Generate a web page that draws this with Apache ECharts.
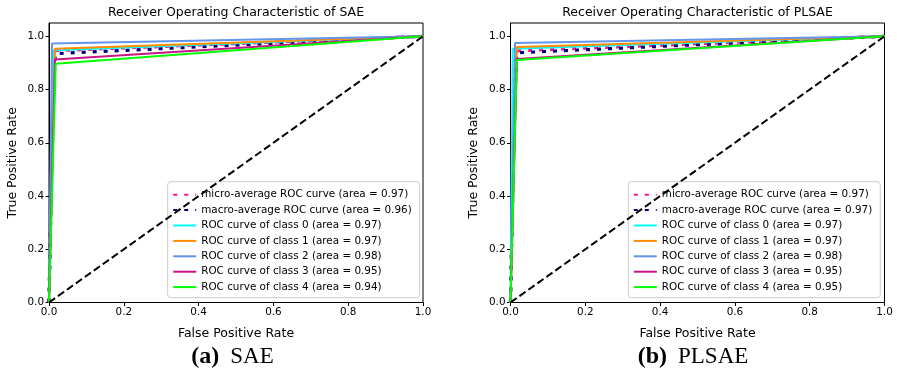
<!DOCTYPE html>
<html>
<head>
<meta charset="utf-8">
<script src="https://cdn.jsdelivr.net/npm/echarts@6/dist/echarts.min.js"></script>
<style>
html,body{margin:0;padding:0;background:#fff;}
#chart{width:897px;height:377px;}
</style>
</head>
<body>
<div id="chart"></div>
<script>
// ---- data ----
const xTicks = [0, 0.2, 0.4, 0.6, 0.8, 1.0];
const yTicks = [0, 0.2, 0.4, 0.6, 0.8, 1.0];
const titles = ['Receiver Operating Characteristic of SAE', 'Receiver Operating Characteristic of PLSAE'];
const captionTags = ['(a)', '(b)'];
const captionNames = ['SAE', 'PLSAE'];

const curveNames = ['micro-average ROC curve', 'macro-average ROC curve',
  'ROC curve of class 0', 'ROC curve of class 1', 'ROC curve of class 2',
  'ROC curve of class 3', 'ROC curve of class 4'];
const saeAreas = [0.97, 0.96, 0.97, 0.97, 0.98, 0.95, 0.94];
const plsaeAreas = [0.97, 0.97, 0.97, 0.97, 0.98, 0.95, 0.95];

// SAE curves [fpr, tpr]
const saeMicro  = [[0, 0], [0.0135, 0.946], [1, 1]];
const saeMacro  = [[0, 0], [0.008, 0.59], [0.0115, 0.77], [0.016, 0.917], [0.018, 0.935], [1, 1]];
const saeClass0 = [[0, 0], [0.0115, 0.948], [1, 1]];
const saeClass1 = [[0, 0], [0.016, 0.953], [1, 1]];
const saeClass2 = [[0, 0], [0.008, 0.973], [1, 1]];
const saeClass3 = [[0, 0], [0.016, 0.913], [1, 1]];
const saeClass4 = [[0, 0], [0.018, 0.897], [1, 1]];

// PLSAE curves [fpr, tpr]
const plsaeMicro  = [[0, 0], [0.014, 0.945], [1, 1]];
const plsaeMacro  = [[0, 0], [0.006, 0.485], [0.012, 0.78], [0.017, 0.938], [1, 1]];
const plsaeClass0 = [[0, 0], [0.006, 0.953], [1, 1]];
const plsaeClass1 = [[0, 0], [0.017, 0.96], [1, 1]];
const plsaeClass2 = [[0, 0], [0.012, 0.975], [1, 1]];
const plsaeClass3 = [[0, 0], [0.017, 0.915], [1, 1]];
const plsaeClass4 = [[0, 0], [0.017, 0.911], [1, 1]];

const chance = [[0, 0], [1, 1]];

// ---- styles ----
const FONT = 'DejaVu Sans';
const colors = ['#ff1493', '#000080', '#00ffff', '#ff8c00', '#6495ed', '#c71585', '#00ff00'];
const plots = [
  { curves: [saeMicro, saeMacro, saeClass0, saeClass1, saeClass2, saeClass3, saeClass4], areas: saeAreas },
  { curves: [plsaeMicro, plsaeMacro, plsaeClass0, plsaeClass1, plsaeClass2, plsaeClass3, plsaeClass4], areas: plsaeAreas }
];
const gridLeft = [49, 510.5];
const gridRight = [897 - 423, 897 - 884.5];
const gridTop = 23, gridBottom = 74.5;

const chart = echarts.init(document.getElementById('chart'), null, { renderer: 'canvas' });

const grids = [], xAxes = [], yAxes = [], series = [], legends = [], graphics = [];
plots.forEach((p, gi) => {
  grids.push({ left: gridLeft[gi], right: gridRight[gi], top: gridTop, bottom: gridBottom,
    show: true, borderColor: '#000', borderWidth: 1, backgroundColor: '#fff' });
  xAxes.push({
    type: 'value', gridIndex: gi, min: 0, max: 1,
    axisLine: { show: true, lineStyle: { color: '#000', width: 1 } },
    axisTick: { show: true, customValues: xTicks, length: 3.5, lineStyle: { color: '#000', width: 1 } },
    axisLabel: { customValues: xTicks, formatter: v => v.toFixed(1), color: '#000', fontFamily: FONT, fontSize: 10.4, margin: 5 },
    splitLine: { show: false },
    name: 'False Positive Rate', nameLocation: 'middle', nameGap: 25,
    nameTextStyle: { color: '#000', fontFamily: FONT, fontSize: 12.5 }
  });
  yAxes.push({
    type: 'value', gridIndex: gi, min: 0, max: 1.05,
    axisLine: { show: true, lineStyle: { color: '#000', width: 1 } },
    axisTick: { show: true, customValues: yTicks, length: 3.5, lineStyle: { color: '#000', width: 1 } },
    axisLabel: { customValues: yTicks, formatter: v => v.toFixed(1), color: '#000', fontFamily: FONT, fontSize: 10.4, margin: 5 },
    splitLine: { show: false },
    name: 'True Positive Rate', nameLocation: 'middle', nameGap: 30, nameRotate: 90,
    nameTextStyle: { color: '#000', fontFamily: FONT, fontSize: 12.5 }
  });
  const names = [];
  p.curves.forEach((c, ci) => {
    const name = curveNames[ci] + ' (area = ' + p.areas[ci].toFixed(2) + ')';
    names.push(name);
    const dotted = ci < 2;
    series.push({
      type: 'line', name: name, xAxisIndex: gi, yAxisIndex: gi, data: c,
      symbol: 'none', silent: true, z: 2 + ci,
      itemStyle: { color: 'rgba(0,0,0,0)', borderColor: 'rgba(0,0,0,0)', borderWidth: 0, opacity: 0 },
      lineStyle: dotted
        ? { color: colors[ci], width: 3.2, type: [4, 7], cap: 'butt' }
        : { color: colors[ci], width: 2 }
    });
  });
  series.push({
    type: 'line', name: 'chance' + gi, xAxisIndex: gi, yAxisIndex: gi, data: chance,
    symbol: 'none', silent: true, z: 10,
    lineStyle: { color: '#000', width: 2, type: [7.5, 3.5] }
  });
  legends.push({
    data: names, orient: 'vertical',
    left: gi === 0 ? 167.7 : 628.3, top: 181.7,
    itemWidth: 23, itemHeight: 12, itemGap: 3.4,
    padding: [7, 8, 4.5, 4.5],
    backgroundColor: 'rgba(255,255,255,0.8)', borderColor: '#cccccc', borderWidth: 1, borderRadius: 3,
    textStyle: { color: '#000', fontFamily: FONT, fontSize: 10.4, lineHeight: 12 },
    selectedMode: false
  });
  const cx = (gridLeft[gi] + (897 - gridRight[gi])) / 2;
  graphics.push({
    type: 'text', x: cx, y: 12.3,
    style: { text: titles[gi], fill: '#000', font: '12.5px "DejaVu Sans"', textAlign: 'center', textVerticalAlign: 'middle' }
  });
  graphics.push({
    type: 'text', x: gi === 0 ? 232.5 : 693, y: 357,
    style: {
      text: '{b|' + captionTags[gi] + '}{n|' + captionNames[gi] + '}',
      textAlign: 'center', textVerticalAlign: 'middle',
      rich: {
        b: { fontFamily: 'Liberation Serif', fontWeight: 'bold', fontSize: 24, fill: '#000', padding: [0, 11, 0, 0] },
        n: { fontFamily: 'Liberation Serif', fontSize: 23, fill: '#000' }
      }
    }
  });
});

chart.setOption({
  animation: false,
  backgroundColor: '#fff',
  grid: grids, xAxis: xAxes, yAxis: yAxes, series: series, legend: legends, graphic: graphics
});
</script>
</body>
</html>
